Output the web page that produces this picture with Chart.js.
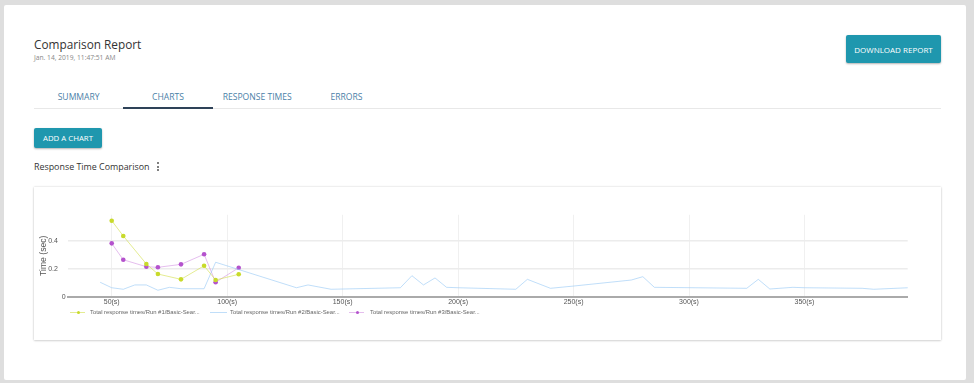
<!DOCTYPE html>
<html>
<head>
<meta charset="utf-8">
<script src="https://cdn.jsdelivr.net/npm/chart.js@4.4.0/dist/chart.umd.min.js"></script>
<style>
  html, body { margin:0; padding:0; }
  body { width:974px; height:383px; background:#dedede; position:relative; overflow:hidden; font-family:"Open Sans", sans-serif; }
  #page { position:absolute; left:4px; top:5px; width:962px; height:375px; background:#fff; border-radius:2px; }
  .abs { position:absolute; white-space:nowrap; }
  #title { left:34px; top:35.5px; font-size:11.8px; color:#333; }
  #date { left:34px; top:53px; font-size:6.7px; color:#888; }
  .btn { position:absolute; background:#1f97ae; color:#fff; border-radius:2px; box-shadow:0 1px 2px rgba(0,0,0,0.3); display:flex; align-items:center; justify-content:center; font-size:8px; }
  #dl { left:846px; top:35px; width:95px; height:28px; }
  #add { left:34px; top:128px; width:68px; height:20px; font-size:7.8px; }
  .tab { position:absolute; top:90.5px; width:89.3px; text-align:center; font-size:8.6px; color:#4b7fa8; }
  #tabline { position:absolute; left:34px; top:107.5px; width:907px; height:1.5px; background:#e8e8e8; }
  #tabsel { position:absolute; left:123.3px; top:107.3px; width:89.4px; height:2px; background:#2e4258; }
  #rtc { left:34px; top:159.5px; font-size:8.9px; color:#333; }
  .dot { position:absolute; width:2px; height:2px; border-radius:1px; background:#555; left:156.5px; }
  #card { position:absolute; left:34px; top:187px; width:907px; height:153px; background:#fff; box-shadow:0 0 2px rgba(0,0,0,0.18), 0 1px 2px rgba(0,0,0,0.12); }
  #chart { position:absolute; left:34px; top:187px; }
  .lg { position:absolute; top:309px; height:7px; font-family:"Liberation Sans", Arial, sans-serif; font-size:5.9px; color:#666; white-space:nowrap; line-height:7px; }
  .lgline { position:absolute; height:1px; top:312px; }
  .lgdot { position:absolute; width:3px; height:3px; border-radius:1.5px; top:311px; }
</style>
</head>
<body>
<div id="page"></div>
<div class="abs" id="title">Comparison Report</div>
<div class="abs" id="date">Jan. 14, 2019, 11:47:51 AM</div>
<div class="btn" id="dl">DOWNLOAD REPORT</div>
<div class="tab" style="left:34px">SUMMARY</div>
<div class="tab" style="left:123.3px">CHARTS</div>
<div class="tab" style="left:212.6px">RESPONSE TIMES</div>
<div class="tab" style="left:301.9px">ERRORS</div>
<div id="tabline"></div>
<div id="tabsel"></div>
<div class="btn" id="add">ADD A CHART</div>
<div class="abs" id="rtc">Response Time Comparison</div>
<div class="dot" style="top:162px"></div>
<div class="dot" style="top:165.5px"></div>
<div class="dot" style="top:169px"></div>
<div id="card"></div>
<canvas id="chart" width="907" height="153"></canvas>
<div id="legend"></div>
<script>
// ---- data ----
const seriesNames = [
  "Total response times/Run #1/Basic-Sear...",
  "Total response times/Run #2/Basic-Sear...",
  "Total response times/Run #3/Basic-Sear..."
];
const run1Times  = [50, 55, 65, 70, 80, 90, 95, 105];
const run1Values = [0.543, 0.434, 0.234, 0.162, 0.124, 0.221, 0.119, 0.160];
const run2Times  = [45, 50, 55, 60, 65, 70, 75, 80, 90, 95, 130, 135, 145, 175, 180, 185, 190, 195, 200, 225, 230, 240, 250, 275, 280, 285, 325, 330, 335, 345, 350, 375, 380, 395];
const run2Values = [0.103, 0.064, 0.053, 0.084, 0.084, 0.046, 0.067, 0.057, 0.057, 0.246, 0.064, 0.084, 0.053, 0.064, 0.150, 0.084, 0.134, 0.067, 0.064, 0.053, 0.124, 0.060, 0.076, 0.119, 0.143, 0.067, 0.060, 0.124, 0.055, 0.067, 0.064, 0.060, 0.053, 0.064];
const run3Times  = [50, 55, 65, 70, 80, 90, 95, 105];
const run3Values = [0.381, 0.264, 0.214, 0.210, 0.231, 0.303, 0.103, 0.207];
const xTicks = [50, 100, 150, 200, 250, 300, 350];
const yTicks = [0, 0.2, 0.4];
const yTitle = "Time (sec)";

const zip = (t, v) => t.map((x, i) => ({x: x, y: v[i]}));

const styles = [
  {line: 'rgba(205,220,57,0.55)', point: '#c8da2b', dots: true},
  {line: 'rgba(150,200,245,0.6)', point: '#a9d2f5', dots: false},
  {line: 'rgba(186,85,211,0.38)', point: '#b452cd', dots: true}
];

const datasets = [
  {label: seriesNames[0], data: zip(run1Times, run1Values)},
  {label: seriesNames[1], data: zip(run2Times, run2Values)},
  {label: seriesNames[2], data: zip(run3Times, run3Values)}
].map((d, i) => Object.assign(d, {
  borderColor: styles[i].line,
  backgroundColor: styles[i].point,
  pointBackgroundColor: styles[i].point,
  pointBorderColor: styles[i].point,
  pointRadius: styles[i].dots ? 2.3 : 0,
  pointBorderWidth: 0,
  borderWidth: 1,
  tension: 0,
  fill: false
}));

new Chart(document.getElementById('chart'), {
  type: 'line',
  data: {datasets: datasets},
  options: {
    responsive: false,
    animation: false,
    devicePixelRatio: 1,
    layout: {padding: {left: 0, right: 33.3, top: 27.8, bottom: 29.3}},
    plugins: {legend: {display: false}, tooltip: {enabled: false}},
    scales: {
      x: {
        type: 'linear',
        min: 31.2,
        max: 394.7,
        afterBuildTicks: s => { s.ticks = xTicks.map(v => ({value: v})); },
        afterFit: s => { s.height = 14; },
        ticks: {
          callback: v => v + '(s)',
          font: {family: 'Liberation Sans', size: 7},
          color: '#555',
          padding: 1.5,
          maxRotation: 0,
          autoSkip: false
        },
        grid: {color: '#f0f0f0', lineWidth: 1, drawTicks: false},
        border: {display: true, color: '#aaaaaa', width: 2}
      },
      y: {
        min: 0,
        max: 0.585,
        afterBuildTicks: s => { s.ticks = yTicks.map(v => ({value: v})); },
        afterFit: s => { s.width = 34.3; },
        ticks: {
          callback: v => v === 0 ? '0' : String(v) + '\u2007\u2007',
          font: {family: 'Liberation Sans', size: 7},
          color: '#555',
          padding: 2.6
        },
        grid: {color: ctx => ctx.tick && ctx.tick.value === 0 ? 'rgba(0,0,0,0)' : '#ececec', lineWidth: 1.5, drawTicks: false},
        border: {display: false},
        title: {
          display: true,
          text: yTitle,
          font: {family: 'Liberation Sans', size: 8.6},
          color: '#555',
          padding: {top: 4.2, bottom: 0}
        }
      }
    }
  }
});

// ---- HTML legend built from the series names ----
const legendPos = [
  {line: [70, 85], dot: 78, text: 90},
  {line: [210, 227], dot: null, text: 230},
  {line: [349, 364], dot: 357, text: 370}
];
const lg = document.getElementById('legend');
seriesNames.forEach((name, i) => {
  const p = legendPos[i];
  const ln = document.createElement('div');
  ln.className = 'lgline';
  ln.style.left = p.line[0] + 'px';
  ln.style.width = (p.line[1] - p.line[0]) + 'px';
  ln.style.background = styles[i].line;
  lg.appendChild(ln);
  if (styles[i].dots) {
    const d = document.createElement('div');
    d.className = 'lgdot';
    d.style.left = (p.dot - 1.5) + 'px';
    d.style.background = styles[i].point;
    lg.appendChild(d);
  }
  const t = document.createElement('div');
  t.className = 'lg';
  t.style.left = p.text + 'px';
  t.textContent = name;
  lg.appendChild(t);
});
</script>
</body>
</html>
